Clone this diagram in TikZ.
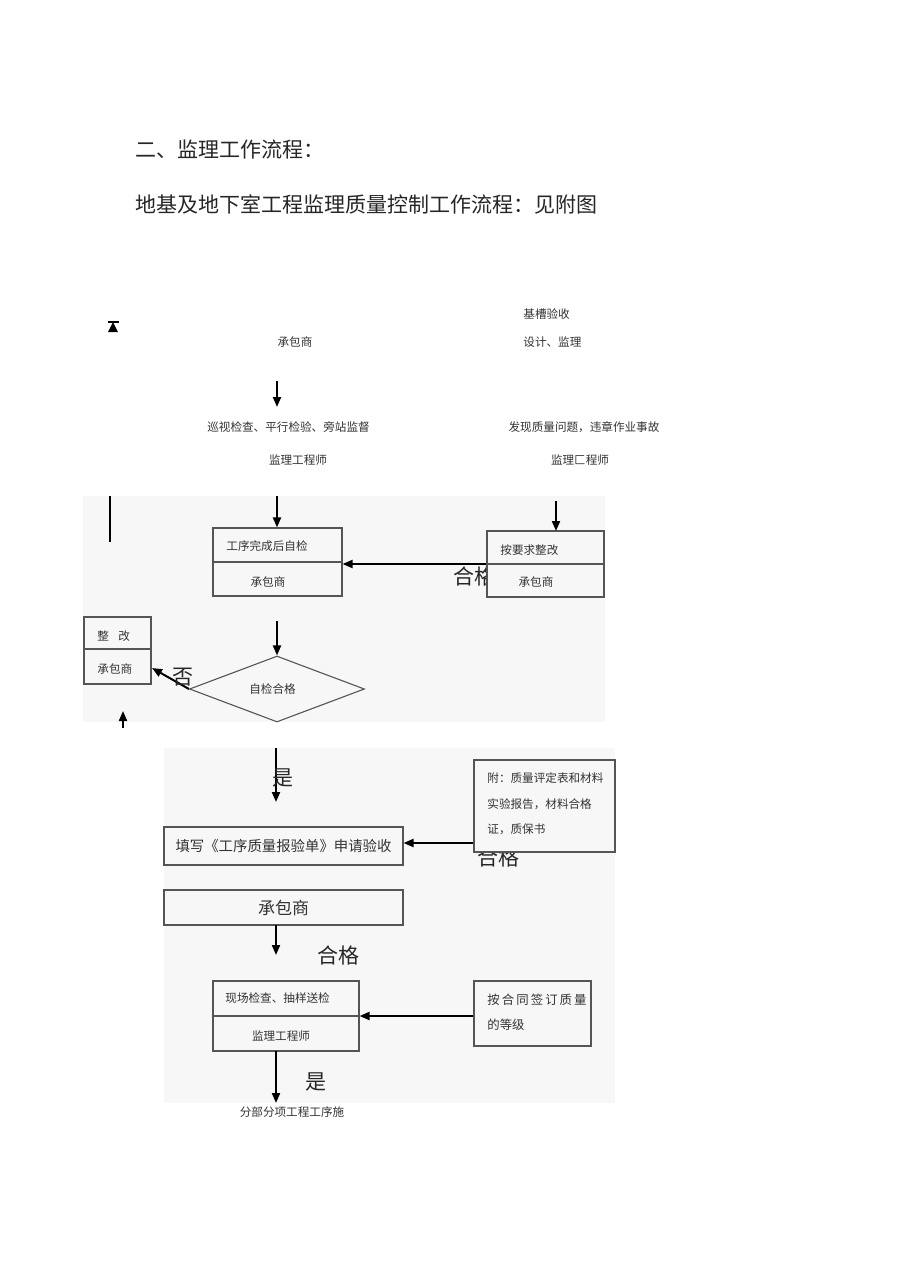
\documentclass[tikz,border=0pt]{standalone}
\usepackage{fontspec}
\setmainfont{Noto Sans CJK SC}
\usetikzlibrary{arrows.meta,shapes.geometric,calc}
\definecolor{bgc}{HTML}{F7F7F7}
\definecolor{edge}{HTML}{555555}
\begin{document}
\begin{tikzpicture}[x=0.5pt,y=-0.5pt,
  sm/.style={font=\fontsize{5.8}{7}\selectfont, inner sep=0, text=black!80},
  mid/.style={font=\fontsize{7.2}{9}\selectfont, inner sep=0, text=black!80},
  big/.style={font=\fontsize{10.5}{12}\selectfont, inner sep=0, text=black!85},
  boxst/.style={draw=edge, line width=0.55pt, fill=bgc, inner sep=0},
  arr/.style={line width=1pt, -{Triangle[length=5pt,width=4pt]}}]
\useasboundingbox (0,0) rectangle (920,1281);
\fill[white] (0,0) rectangle (920,1281);
% grey panels
\fill[bgc] (83,496) rectangle (605,722);
\fill[bgc] (164,748) rectangle (615,1103);

% headings
\node[big, anchor=west] (h1) at (135,150) {二、监理工作流程：};
\node[big, anchor=west] (h2) at (135,204) {地基及地下室工程监理质量控制工作流程：见附图};

% top small texts
\node[sm, anchor=west] (jc) at (523,314) {基槽验收};
\node[sm, anchor=west] (sj) at (523,342) {设计、监理};
\node[sm] (cb0) at (295,342) {承包商};
\node[sm] (xs) at (288.5,427) {巡视检查、平行检验、旁站监督};
\node[sm] (jl0) at (298,460) {监理工程师};
\node[sm] (fx) at (584,427) {发现质量问题，违章作业事故};
\node[sm] (jl1) at (580,460) {监理匚程师};

% small symbol top-left
\draw[line width=1pt] (108,322) -- (119,322);
\fill (113,322) -- (118,332) -- (108,332) -- cycle;

% free coordinates
\coordinate (a0s) at (277,381);
\coordinate (a0e) at (277,407);
\coordinate (vl1) at (110,496);
\coordinate (vl2) at (110,542);
\coordinate (a1s) at (277,496);
\coordinate (a2s) at (556,501);
\coordinate (a2e) at (556,531);
\coordinate (a3s) at (277,621);
\coordinate (b3in) at (152,668);
\coordinate (upS) at (123,728);
\coordinate (upE) at (123,711);
\coordinate (a4s) at (276,748);
\coordinate (a4e) at (276,802);
\coordinate (a6s) at (276,925);
\coordinate (a6e) at (276,955);
\coordinate (a7s) at (276,1051);
\coordinate (a7e) at (276,1103);

\draw[arr] (a0s) -- (a0e);
\draw[line width=1pt] (vl1) -- (vl2);

% box 1
\node[boxst, minimum width=64.5pt, minimum height=34pt] (b1) at (277.5,562) {};
\draw[edge, line width=0.55pt] (b1.west) -- (b1.east);
\node[sm, anchor=west] (b1t) at (226,546) {工序完成后自检};
\node[sm] (b1b) at (268,582) {承包商};
\draw[arr] (a1s) -- (a1s |- b1.north);

% label under box2
\node[big] (hg1) at (474,576) {合格};

% box 2
\node[boxst, minimum width=58.5pt, minimum height=33pt] (b2) at (545.5,564) {};
\draw[edge, line width=0.55pt] (b2.west) -- (b2.east);
\node[sm, anchor=west] (b2t) at (500,550) {按要求整改};
\node[sm] (b2b) at (536,582) {承包商};
\draw[arr] (a2s) -- (a2e);
\draw[arr] (b2.west) -- (b2.west -| b1.east);

% diamond
\node[diamond, draw=edge, line width=0.55pt, fill=bgc, aspect=2.65, minimum width=87.5pt, minimum height=33pt, inner sep=0] (dia) at (277,689) {};
\node[sm] (diat) at (272.5,689) {自检合格};
\draw[arr] (a3s) -- (dia.north);

% box 3
\node[boxst, minimum width=33.5pt, minimum height=33.5pt] (b3) at (117.5,650.5) {};
\draw[edge, line width=0.55pt] ($(b3.west)+(0,-1.5)$) -- ($(b3.east)+(0,-1.5)$);
\node[sm, anchor=west] (b3t) at (97,636) {整\hspace{0.8em}改};
\node[sm, anchor=west] (b3b) at (97,669) {承包商};
\draw[arr] (dia.west) -- (b3in);
\node[big] (fou) at (183,677) {否};
\draw[arr] (upS) -- (upE);

% second panel
\draw[arr] (a4s) -- (a4e);
\node[big] (shi1) at (283,778) {是};

\node[boxst, minimum width=119.5pt, minimum height=19pt] (b4) at (283.5,846) {};
\node[mid] (b4t) at (283.5,846) {填写《工序质量报验单》申请验收};

\node[big] (hg2) at (498,857) {合格};
\node[boxst, minimum width=70.5pt, minimum height=46pt] (b5) at (544.5,806) {};
\node[sm, anchor=west] (b5a) at (487,778) {附：质量评定表和材料};
\node[sm, anchor=west] (b5b) at (487,804) {实验报告，材料合格};
\node[sm, anchor=west] (b5c) at (487,829) {证，质保书};
\draw[arr] ($(b5.west)+(0,37)$) -- ($(b4.east)+(0,-3)$);

\node[boxst, minimum width=119.5pt, minimum height=17.5pt] (b6) at (283.5,907.5) {};
\node[font=\fontsize{8.5}{10}\selectfont, inner sep=0, text=black!80] (b6t) at (283.5,908) {承包商};

\draw[arr] (a6s) -- (a6e);
\node[big] (hg3) at (338,955) {合格};

\node[boxst, minimum width=73pt, minimum height=35pt] (b7) at (286,1016) {};
\draw[edge, line width=0.55pt] (b7.west) -- (b7.east);
\node[sm, anchor=west] (b7t) at (225,998) {现场检查、抽样送检};
\node[sm] (b7b) at (281,1036) {监理工程师};

\node[boxst, minimum width=58.5pt, minimum height=32.5pt] (b8) at (532.5,1013.5) {};
\node[font=\fontsize{6.2}{8}\selectfont, inner sep=0, text=black!80, anchor=west] (b8a) at (487,1000) {按\,合\,同\,签\,订\,质\,量};
\node[font=\fontsize{6.2}{8}\selectfont, inner sep=0, text=black!80, anchor=west] (b8b) at (487,1025) {的等级};
\draw[arr] (b8.west |- b7.east) -- (b7.east);

\draw[arr] (a7s) -- (a7e);
\node[big] (shi2) at (316,1082) {是};
\node[sm] (fb) at (292,1112) {分部分项工程工序施};
\end{tikzpicture}
\end{document}
